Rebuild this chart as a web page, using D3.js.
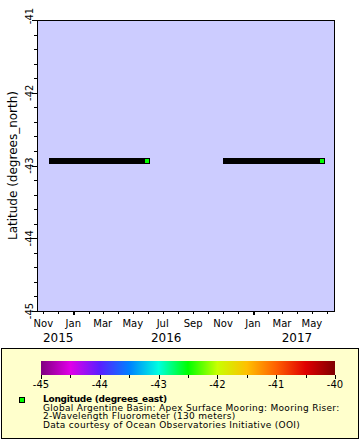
<!DOCTYPE html>
<html>
<head>
<meta charset="utf-8">
<script src="https://cdn.jsdelivr.net/npm/d3@7"></script>
<style>
  html, body { margin: 0; padding: 0; background: #ffffff; }
  svg { display: block; font-family: "DejaVu Sans", sans-serif; }
</style>
</head>
<body>
<svg id="chart" width="360" height="440"></svg>
<script>
// ---------- data ----------
const deploymentStart = ["2015-11-18", "2016-11-06"];
const deploymentEnd   = ["2016-05-30", "2017-05-21"];
const latitudes  = [-42.94, -42.94];
const longitudes = [-42.5, -42.5];

const timeDomain = ["2015-10-19", "2017-06-17"];
const latDomain = [-45, -41];
const latTicks = [-45, -44, -43, -42, -41];
const colorDomain = [-45, -40];
const colorTicks = [-45, -44, -43, -42, -41, -40];
const paletteStops = [-45, -44.5, -44, -43.5, -43, -42.5, -42, -41.5, -41, -40.5, -40];
const paletteColors = ["#800080", "#e000e8", "#5a1fff", "#0080ff", "#00ffe0", "#00ff00",
                       "#c8ff00", "#ffc000", "#ff6000", "#e00000", "#800000"];
const yTitle = "Latitude (degrees_north)";
const legendTitle = "Longitude (degrees_east)";
const legendLines = [
  "Global Argentine Basin: Apex Surface Mooring: Mooring Riser:",
  "2-Wavelength Fluorometer (130 meters)",
  "Data courtesy of Ocean Observatories Initiative (OOI)"
];

// ---------- layout ----------
const svg = d3.select("#chart");
const P = { left: 37, top: 20, right: 335, bottom: 311 };
const parse = d3.utcParse("%Y-%m-%d");

const x = d3.scaleUtc().domain(timeDomain.map(parse)).range([P.left, P.right]);
const y = d3.scaleLinear().domain(latDomain).range([P.bottom, P.top]);
const color = d3.scaleLinear().domain(paletteStops).range(paletteColors).clamp(true);

// plot background
svg.append("rect")
  .attr("x", P.left).attr("y", P.top)
  .attr("width", P.right - P.left).attr("height", P.bottom - P.top)
  .attr("fill", "#ccccff");

// data: dense markers form black band, last marker shows colour
const ms = 6;
const g = svg.append("g").attr("shape-rendering", "crispEdges");
deploymentStart.forEach((s, i) => {
  const x0 = x(parse(s)), x1 = x(parse(deploymentEnd[i]));
  const yy = y(latitudes[i]);
  g.append("rect")
    .attr("x", Math.round(x0 - ms / 2)).attr("y", Math.round(yy - ms / 2))
    .attr("width", Math.round(x1 - x0 + ms)).attr("height", ms)
    .attr("fill", "#000");
  g.append("rect")
    .attr("x", Math.round(x1 - ms / 2) + 1).attr("y", Math.round(yy - ms / 2) + 1)
    .attr("width", ms - 2).attr("height", ms - 2)
    .attr("fill", color(longitudes[i]));
});

// frame
svg.append("rect")
  .attr("x", P.left + 0.5).attr("y", P.top + 0.5)
  .attr("width", P.right - P.left - 1).attr("height", P.bottom - P.top)
  .attr("fill", "none").attr("stroke", "#000").attr("stroke-width", 1)
  .attr("shape-rendering", "crispEdges");

// ---------- y axis ----------
const yAxis = svg.append("g").attr("shape-rendering", "crispEdges");
const minorY = d3.range(0, 21).map(k => latDomain[0] + k * 0.2);
minorY.forEach(v => {
  const major = Math.abs(v - Math.round(v)) < 1e-6;
  const yy = Math.round(y(v)) + 0.5;
  yAxis.append("line")
    .attr("x1", P.left - (major ? 5 : 3)).attr("x2", P.left)
    .attr("y1", yy).attr("y2", yy)
    .attr("stroke", "#000");
});
latTicks.forEach(v => {
  const top = v === latDomain[1];
  svg.append("text")
    .attr("transform", `translate(33,${y(v) + (top ? -4 : 0)}) rotate(-90)`)
    .attr("text-anchor", "middle")
    .attr("font-size", 10)
    .text(v);
});
svg.append("text")
  .attr("transform", `translate(17,${(P.top + P.bottom) / 2}) rotate(-90)`)
  .attr("text-anchor", "middle")
  .attr("font-size", 12)
  .text(yTitle);

// ---------- x axis ----------
const xAxis = svg.append("g").attr("shape-rendering", "crispEdges");
const months = d3.utcMonth.range(x.domain()[0], x.domain()[1]);
months.forEach(m => {
  const isJan = m.getUTCMonth() === 0;
  const xx = Math.round(x(m)) + 0.5;
  xAxis.append("line")
    .attr("x1", xx).attr("x2", xx)
    .attr("y1", P.bottom).attr("y2", P.bottom + (isJan ? 4 : 3))
    .attr("stroke", "#000").attr("stroke-width", isJan ? 2 : 1);
  if (m.getUTCMonth() % 2 === 0) {
    svg.append("text")
      .attr("x", x(m)).attr("y", 327)
      .attr("text-anchor", "middle")
      .attr("font-size", 10)
      .text(d3.utcFormat("%b")(m));
  }
});
const years = [2015, 2016, 2017];
years.forEach(yr => {
  const a = Math.max(x.domain()[0], Date.UTC(yr, 0, 1));
  const b = Math.min(x.domain()[1], Date.UTC(yr + 1, 0, 1));
  svg.append("text")
    .attr("x", (x(a) + x(b)) / 2 + 3).attr("y", 341.5)
    .attr("text-anchor", "middle")
    .attr("font-size", 12)
    .text(yr);
});

// ---------- legend ----------
svg.append("rect")
  .attr("x", 1.5).attr("y", 348.5).attr("width", 357).attr("height", 90)
  .attr("fill", "#ffffcc").attr("stroke", "#000")
  .attr("shape-rendering", "crispEdges");

const cx = d3.scaleLinear().domain(colorDomain).range([41, 335]);
const defs = svg.append("defs");
const grad = defs.append("linearGradient").attr("id", "cbar")
  .attr("x1", "0%").attr("x2", "100%").attr("y1", "0%").attr("y2", "0%");
paletteStops.forEach((s, i) => {
  grad.append("stop")
    .attr("offset", ((s - colorDomain[0]) / (colorDomain[1] - colorDomain[0]) * 100) + "%")
    .attr("stop-color", paletteColors[i]);
});
svg.append("rect")
  .attr("x", cx(colorDomain[0])).attr("y", 361)
  .attr("width", cx(colorDomain[1]) - cx(colorDomain[0])).attr("height", 14)
  .attr("fill", "url(#cbar)");
const cTicks = svg.append("g").attr("shape-rendering", "crispEdges");
d3.range(0, 11).map(k => colorDomain[0] + k * 0.5).forEach(v => {
  const major = Number.isInteger(v);
  const xx = Math.round(cx(v)) + 0.5;
  cTicks.append("line")
    .attr("x1", xx).attr("x2", xx)
    .attr("y1", 375).attr("y2", 375 + (major ? 4 : 3))
    .attr("stroke", "#000");
});
colorTicks.forEach(v => {
  svg.append("text")
    .attr("x", cx(v)).attr("y", 388)
    .attr("text-anchor", "middle")
    .attr("font-size", 10)
    .text(v);
});

svg.append("rect")
  .attr("x", 19.5).attr("y", 397.5).attr("width", 5).attr("height", 5)
  .attr("fill", color(longitudes[0])).attr("stroke", "#000")
  .attr("shape-rendering", "crispEdges");
svg.append("text")
  .attr("x", 43).attr("y", 401.5)
  .attr("font-size", 9).attr("font-weight", "bold")
  .attr("letter-spacing", -0.25)
  .text(legendTitle);
legendLines.forEach((t, i) => {
  svg.append("text")
    .attr("x", 43).attr("y", 410.5 + i * 8.9)
    .attr("font-size", 9)
    .attr("letter-spacing", 0.3)
    .text(t);
});
</script>
</body>
</html>
